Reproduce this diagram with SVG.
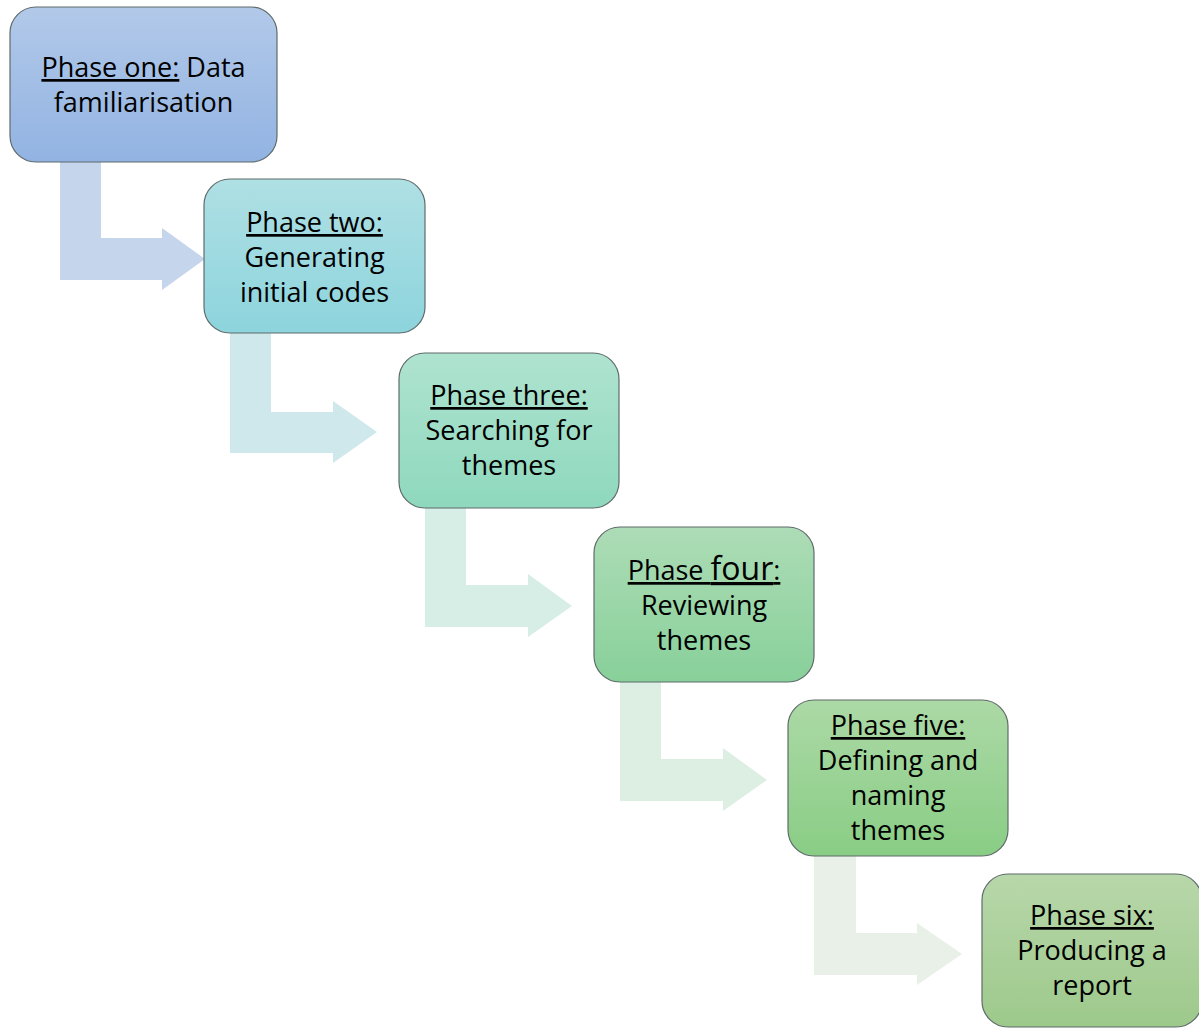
<svg xmlns="http://www.w3.org/2000/svg" width="1199" height="1028" viewBox="0 0 1199 1028">
<style>
.box{stroke:#5f6b6b;stroke-width:1.2}
.t{font-family:"Open Sans","Liberation Sans",sans-serif;font-size:27px;fill:#000;text-anchor:middle}
.u{text-decoration:underline}
</style>
<defs>
<linearGradient id="g1" x1="0" y1="0" x2="0" y2="1"><stop offset="0" stop-color="#b2c9e9"/><stop offset="1" stop-color="#92b3e2"/></linearGradient>
<linearGradient id="g2" x1="0" y1="0" x2="0" y2="1"><stop offset="0" stop-color="#afe0e4"/><stop offset="1" stop-color="#8dd4dd"/></linearGradient>
<linearGradient id="g3" x1="0" y1="0" x2="0" y2="1"><stop offset="0" stop-color="#afe3d0"/><stop offset="1" stop-color="#8ed8bd"/></linearGradient>
<linearGradient id="g4" x1="0" y1="0" x2="0" y2="1"><stop offset="0" stop-color="#addcb6"/><stop offset="1" stop-color="#88d09a"/></linearGradient>
<linearGradient id="g5" x1="0" y1="0" x2="0" y2="1"><stop offset="0" stop-color="#acd9a6"/><stop offset="1" stop-color="#89cd85"/></linearGradient>
<linearGradient id="g6" x1="0" y1="0" x2="0" y2="1"><stop offset="0" stop-color="#b8d7aa"/><stop offset="1" stop-color="#9dc98b"/></linearGradient>
</defs>
<g id="connectors">
<path d="M60,162 H101 V238 H162 V228 L205,259 L162,290 V280 H60 Z" fill="#c5d5ec"/>
<path d="M230,333 H271 V412 H333 V401 L377,432 L333,463 V453 H230 Z" fill="#cfe8ec"/>
<path d="M425,508 H466 V585 H528 V574 L572,606 L528,637 V627 H425 Z" fill="#d7eee7"/>
<path d="M620,682 H661 V759 H723 V748 L767,780 L723,811 V801 H620 Z" fill="#ddefe2"/>
<path d="M814,856 H856 V933 H917 V923 L962,954 L917,985 V975 H814 Z" fill="#e9f0e7"/>
</g>
<g id="n1">
<rect class="box" x="10" y="7" width="267" height="155" rx="26" fill="url(#g1)"/>
<text class="t" x="143.5" y="77"><tspan class="u">Phase one:</tspan> Data</text>
<text class="t" x="143.5" y="112">familiarisation</text>
</g>
<g id="n2">
<rect class="box" x="204" y="179" width="221" height="154" rx="26" fill="url(#g2)"/>
<text class="t" x="314.5" y="232"><tspan class="u">Phase two:</tspan></text>
<text class="t" x="314.5" y="267">Generating</text>
<text class="t" x="314.5" y="302">initial codes</text>
</g>
<g id="n3">
<rect class="box" x="399" y="353" width="220" height="155" rx="26" fill="url(#g3)"/>
<text class="t" x="509" y="405"><tspan class="u">Phase three:</tspan></text>
<text class="t" x="509" y="440">Searching for</text>
<text class="t" x="509" y="475">themes</text>
</g>
<g id="n4">
<rect class="box" x="594" y="527" width="220" height="155" rx="26" fill="url(#g4)"/>
<text class="t" x="704" y="580"><tspan class="u">Phase <tspan font-size="32">four</tspan>:</tspan></text>
<text class="t" x="704" y="615">Reviewing</text>
<text class="t" x="704" y="650">themes</text>
</g>
<g id="n5">
<rect class="box" x="788" y="700" width="220" height="156" rx="26" fill="url(#g5)"/>
<text class="t" x="898" y="735"><tspan class="u">Phase five:</tspan></text>
<text class="t" x="898" y="770">Defining and</text>
<text class="t" x="898" y="805">naming</text>
<text class="t" x="898" y="840">themes</text>
</g>
<g id="n6">
<rect class="box" x="982" y="874" width="220" height="153" rx="26" fill="url(#g6)"/>
<text class="t" x="1092" y="925"><tspan class="u">Phase six:</tspan></text>
<text class="t" x="1092" y="960">Producing a</text>
<text class="t" x="1092" y="995">report</text>
</g>
</svg>
